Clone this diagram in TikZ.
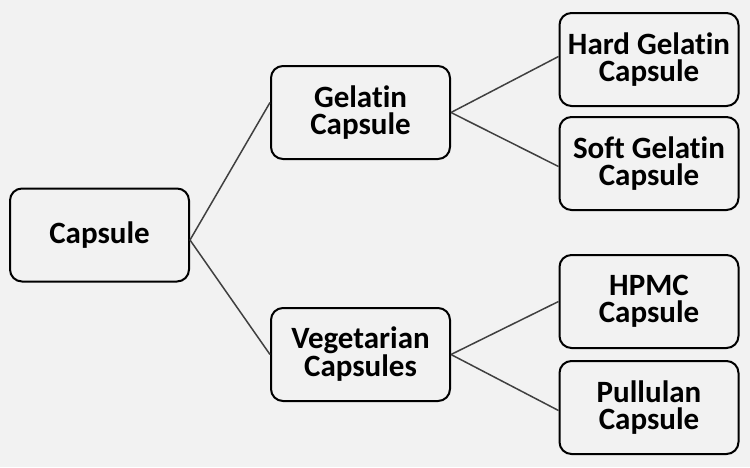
\documentclass[tikz,border=0pt]{standalone}
\usepackage{fontspec}
\setmainfont{Carlito}[Ligatures=NoCommon]
\definecolor{bg}{HTML}{F2F2F2}
\definecolor{ln}{HTML}{404040}
\begin{document}
\begin{tikzpicture}[x=1pt,y=-1pt,
  box/.style={draw=black, line width=2pt, rounded corners=12pt, fill=bg,
    minimum width=179pt, minimum height=93pt, inner sep=0pt, align=center,
    font=\fontsize{31}{27}\selectfont\bfseries},
  link/.style={draw=ln, line width=1.5pt}]
\fill[bg] (0,0) rectangle (750,467);
\useasboundingbox (0,0) rectangle (750,467);
\node[box] (cap) at (99.5,235) {Capsule};
\node[box] (gel) at (360.5,112.5) {Gelatin\\Capsule};
\node[box] (veg) at (360.5,354.5) {Vegetarian\\Capsules};
\node[box] (hard) at (649,59.5) {Hard Gelatin\\Capsule};
\node[box] (soft) at (649,163.5) {Soft Gelatin\\Capsule};
\node[box] (hpmc) at (649,301.5) {HPMC\\Capsule};
\node[box] (pull) at (649,407.5) {Pullulan\\Capsule};
\draw[link] ([yshift=-5pt]cap.east) -- ([yshift=10pt]gel.west);
\draw[link] ([yshift=-5pt]cap.east) -- (veg.west);
\draw[link] (gel.east) -- ([yshift=3pt]hard.west);
\draw[link] (gel.east) -- ([yshift=-3pt]soft.west);
\draw[link] (veg.east) -- (hpmc.west);
\draw[link] (veg.east) -- ([yshift=-3pt]pull.west);
\end{tikzpicture}
\end{document}
